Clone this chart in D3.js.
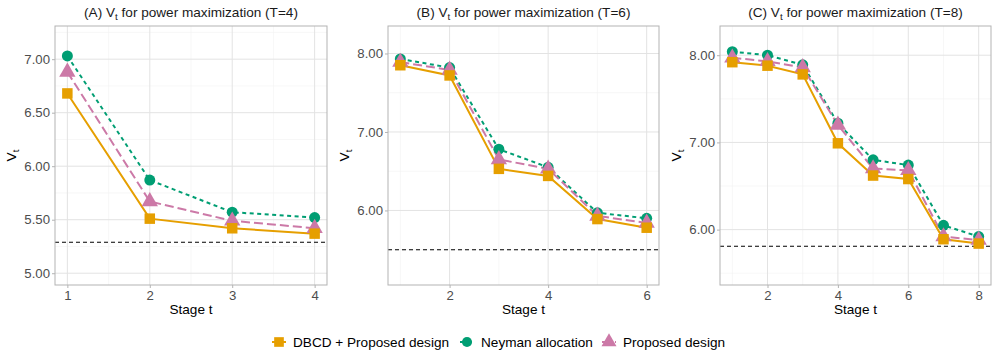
<!DOCTYPE html>
<html><head><meta charset="utf-8">
<script src="https://cdn.jsdelivr.net/npm/d3@7"></script>
<style>body{margin:0;background:#fff}svg{display:block;font-family:"Liberation Sans",Arial,Helvetica,sans-serif}</style>
</head><body><svg id="c" width="997" height="356"></svg>
<script>
// ---- data ----
const seriesNames = ["DBCD + Proposed design", "Neyman allocation", "Proposed design"];
const stagesA = [1,2,3,4];
const dbcdA = [6.68,5.51,5.42,5.37];
const neymanA = [7.03,5.87,5.57,5.52];
const proposedA = [6.88,5.67,5.49,5.42];
const refA = 5.29;
const yTicksA = [5.00,5.50,6.00,6.50,7.00];
const xTicksA = [1,2,3,4];

const stagesB = [1,2,3,4,5,6];
const dbcdB = [7.85,7.72,6.53,6.44,5.89,5.78];
const neymanB = [7.93,7.82,6.78,6.55,5.97,5.90];
const proposedB = [7.89,7.79,6.65,6.53,5.93,5.84];
const refB = 5.50;
const yTicksB = [6.00,7.00,8.00];
const xTicksB = [2,4,6];

const stagesC = [1,2,3,4,5,6,7,8];
const dbcdC = [7.92,7.88,7.78,6.99,6.62,6.58,5.89,5.84];
const neymanC = [8.04,8.00,7.89,7.22,6.80,6.74,6.05,5.92];
const proposedC = [7.97,7.93,7.86,7.20,6.70,6.68,5.92,5.88];
const refC = 5.81;
const yTicksC = [6.00,7.00,8.00];
const xTicksC = [2,4,6,8];

const titles = ["(A) ", "(B) ", "(C) "];
const titleTails = [" for power maximization (T=4)", " for power maximization (T=6)", " for power maximization (T=8)"];

// ---- styles ----
const colors = ["#E69F00", "#009E73", "#CC79A7"];
const dashes = [null, "4,3.5", "9,4"];
const shapes = [d3.symbolSquare, d3.symbolCircle, d3.symbolTriangle];
const shapeSizes = [110, 95, 115];
const FS = 13.6;

const panels = [
  {stages: stagesA, series:[dbcdA, neymanA, proposedA], ref: refA, yTicks: yTicksA, xTicks: xTicksA, ylim:[5.0,7.2], yMinor:[5.25,5.75,6.25,6.75,7.25], xMinor:[1.5,2.5,3.5], x0:55, x1:327},
  {stages: stagesB, series:[dbcdB, neymanB, proposedB], ref: refB, yTicks: yTicksB, xTicks: xTicksB, ylim:[5.2,8.2], yMinor:[5.5,6.5,7.5], xMinor:[1,3,5], x0:388, x1:659},
  {stages: stagesC, series:[dbcdC, neymanC, proposedC], ref: refC, yTicks: yTicksC, xTicks: xTicksC, ylim:[5.5,8.2], yMinor:[5.5,6.5,7.5], xMinor:[1,3,5,7], x0:720, x1:991}
];
const yTop = 26, yBot = 285;
const svg = d3.select("#c");

panels.forEach((p, i) => {
  const n = p.stages.length;
  const xr = [p.stages[0], p.stages[n-1]];
  const xe = (xr[1]-xr[0])*0.05;
  const ye = (p.ylim[1]-p.ylim[0])*0.05;
  const x = d3.scaleLinear().domain([xr[0]-xe, xr[1]+xe]).range([p.x0, p.x1]);
  const y = d3.scaleLinear().domain([p.ylim[0]-ye, p.ylim[1]+ye]).range([yBot, yTop]);
  const g = svg.append("g");

  // grid
  g.selectAll(".ymin").data(p.yMinor).join("line")
    .attr("x1", p.x0).attr("x2", p.x1).attr("y1", d=>y(d)).attr("y2", d=>y(d))
    .attr("stroke", "#f1f1f1").attr("stroke-width", 0.6);
  g.selectAll(".xmin").data(p.xMinor).join("line")
    .attr("y1", yTop).attr("y2", yBot).attr("x1", d=>x(d)).attr("x2", d=>x(d))
    .attr("stroke", "#f1f1f1").attr("stroke-width", 0.6);
  g.selectAll(".ymaj").data(p.yTicks).join("line")
    .attr("x1", p.x0).attr("x2", p.x1).attr("y1", d=>y(d)).attr("y2", d=>y(d))
    .attr("stroke", "#e3e3e3").attr("stroke-width", 1);
  g.selectAll(".xmaj").data(p.xTicks).join("line")
    .attr("y1", yTop).attr("y2", yBot).attr("x1", d=>x(d)).attr("x2", d=>x(d))
    .attr("stroke", "#e3e3e3").attr("stroke-width", 1);

  // axes
  const ya = g.append("g").attr("transform", `translate(${p.x0},0)`)
    .call(d3.axisLeft(y).tickValues(p.yTicks).tickFormat(d3.format(".2f")).tickSize(3).tickPadding(2));
  const xa = g.append("g").attr("transform", `translate(0,${yBot})`)
    .call(d3.axisBottom(x).tickValues(p.xTicks).tickFormat(d3.format("d")).tickSize(3).tickPadding(3));
  [ya, xa].forEach(a => {
    a.select(".domain").remove();
    a.selectAll(".tick line").attr("stroke", "#b3b3b3");
    a.selectAll(".tick text").attr("fill", "#4d4d4d").attr("font-size", 13.2).attr("font-family", "Liberation Sans, Arial, sans-serif");
  });

  // reference line
  g.append("line").attr("x1", p.x0).attr("x2", p.x1).attr("y1", y(p.ref)).attr("y2", y(p.ref))
    .attr("stroke", "#000").attr("stroke-width", 1.1).attr("stroke-dasharray", "4,3");

  const order = [1, 2, 0];
  order.forEach(s => {
    const pts = p.stages.map((st, k) => [st, p.series[s][k]]);
    g.append("path").datum(pts)
      .attr("d", d3.line().x(d=>x(d[0])).y(d=>y(d[1])))
      .attr("fill", "none").attr("stroke", colors[s]).attr("stroke-width", 2)
      .attr("stroke-dasharray", dashes[s]);
  });
  order.forEach(s => {
    const pts = p.stages.map((st, k) => [st, p.series[s][k]]);
    g.selectAll(null).data(pts).join("path")
      .attr("transform", d => `translate(${x(d[0])},${y(d[1])})`)
      .attr("d", d3.symbol().type(shapes[s]).size(shapeSizes[s]))
      .attr("fill", colors[s]);
  });

  // border
  g.append("rect").attr("x", p.x0).attr("y", yTop).attr("width", p.x1-p.x0).attr("height", yBot-yTop)
    .attr("fill", "none").attr("stroke", "#b3b3b3").attr("stroke-width", 1);

  // title
  const t = svg.append("text").attr("x", (p.x0+p.x1)/2).attr("y", 17).attr("text-anchor", "middle")
    .attr("font-size", FS).attr("fill", "#1a1a1a");
  t.append("tspan").text(titles[i] + "V");
  t.append("tspan").text("t").attr("font-size", 9.8).attr("dy", 3);
  t.append("tspan").text(titleTails[i]).attr("dy", -3);

  // x title
  svg.append("text").attr("x", (p.x0+p.x1)/2).attr("y", 314).attr("text-anchor", "middle")
    .attr("font-size", FS).attr("fill", "#000").text("Stage t");

  // y title
  const yl = svg.append("text").attr("transform", `translate(${p.x0-39},${(yTop+yBot)/2}) rotate(-90)`)
    .attr("text-anchor", "middle").attr("font-size", FS).attr("fill", "#000");
  yl.append("tspan").text("V");
  yl.append("tspan").text("t").attr("font-size", 9.8).attr("dy", 3);
});

// legend
const legX = [272, 460, 602];
const leg = svg.append("g");
seriesNames.forEach((name, s) => {
  const lx = legX[s];
  leg.append("line").attr("x1", lx).attr("x2", lx+14).attr("y1", 342).attr("y2", 342)
    .attr("stroke", colors[s]).attr("stroke-width", 2).attr("stroke-dasharray", dashes[s]);
  leg.append("path").attr("transform", `translate(${lx+7},342)`)
    .attr("d", d3.symbol().type(shapes[s]).size(shapeSizes[s]*0.85)).attr("fill", colors[s]);
  leg.append("text").attr("x", lx+21).attr("y", 346.7).attr("font-size", FS).attr("fill", "#000").text(name);
});
</script></body></html>
